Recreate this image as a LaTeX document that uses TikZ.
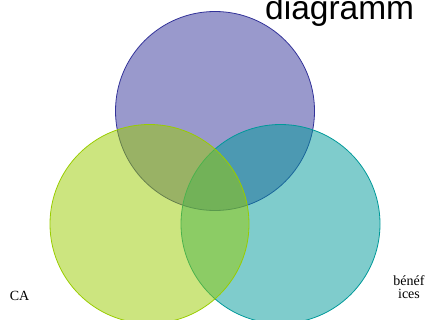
\documentclass[tikz,border=0pt]{standalone}
\usepackage{fontspec}
\setmainfont{Liberation Serif}
\newfontfamily\titlefont{Liberation Sans}
\definecolor{topc}{RGB}{51,51,153}
\definecolor{leftc}{RGB}{153,204,0}
\definecolor{rightc}{RGB}{0,153,153}
\begin{document}
\begin{tikzpicture}[x=1pt,y=-1pt,
  venn/.style={circle, inner sep=0pt, minimum size=199pt, fill opacity=0.5, line width=0.8pt},
  lbl/.style={font=\fontsize{14}{13}\selectfont, inner sep=0pt, align=center}]
\useasboundingbox (0,0) rectangle (427,320);
\clip (0,0) rectangle (427,320);
\node[venn, draw=topc, fill=topc] (top) at (215,111) {};
\node[venn, draw=rightc, fill=rightc] (right) at (280.5,224) {};
\node[venn, draw=leftc, fill=leftc] (left) at (149.5,224) {};
\node[anchor=base west, inner sep=0pt, font=\titlefont\fontsize{33.5}{33.5}\selectfont] (title) at (265,19.5) {diagramm};
\node[lbl, anchor=base] (ca) at (19.5,300.5) {CA};
\node[lbl, anchor=base] (ben) at (409,298) {bénéf\\ices};
\end{tikzpicture}
\end{document}
